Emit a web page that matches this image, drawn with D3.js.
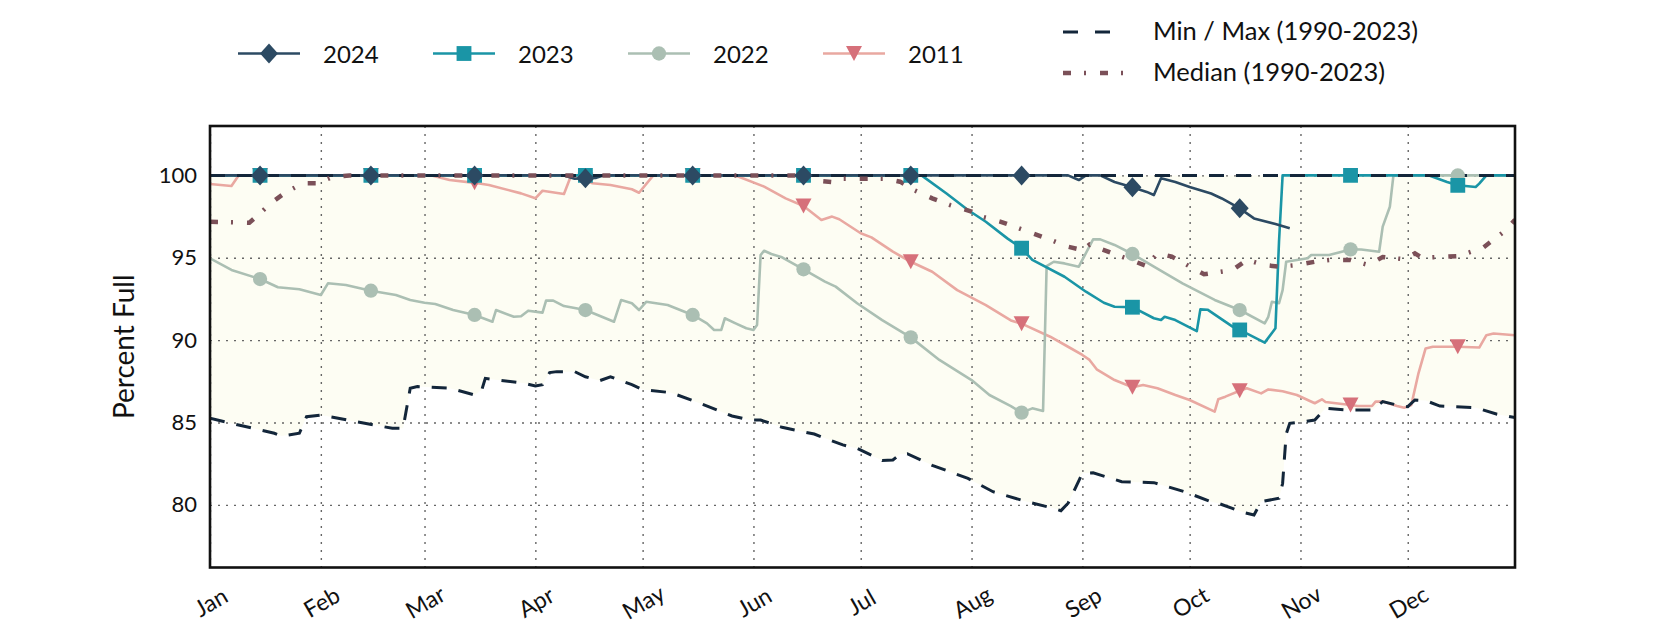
<!DOCTYPE html>
<html>
<head>
<meta charset="utf-8">
<script src="https://cdn.jsdelivr.net/npm/d3@7"></script>
<style>
  body { margin: 0; background: #fff; }
  text { font-family: Lato, "Open Sans", sans-serif; fill: #111; }
</style>
</head>
<body>
<div id="chart"></div>
<script>
// reservoir percent full, daily values ("MM-DD", value)
var series2024 = [
  ["01-01", 100], ["01-15", 100], ["02-15", 100], ["03-15", 100], ["04-09", 100], ["04-12", 99.8],
  ["04-15", 99.83], ["04-18", 99.85], ["04-20", 100], ["05-15", 100], ["06-15", 100], ["07-15", 100],
  ["08-15", 100], ["08-28", 100], ["08-31", 99.72], ["09-02", 100], ["09-06", 100], ["09-10", 99.6],
  ["09-15", 99.28], ["09-19", 99.0], ["09-21", 98.81], ["09-23", 99.83], ["09-27", 99.6], ["10-01", 99.3],
  ["10-07", 98.9], ["10-10", 98.6], ["10-15", 98.0], ["10-19", 97.39], ["10-25", 97.05], ["10-29", 96.79]
];
var series2023 = [
  ["01-01", 100], ["01-15", 100], ["02-15", 100], ["03-15", 100], ["04-15", 100], ["05-15", 100],
  ["06-15", 100], ["07-15", 100], ["07-18", 100], ["07-25", 98.9], ["07-31", 97.9], ["08-05", 97.19],
  ["08-11", 96.18], ["08-15", 95.58], ["08-18", 94.87], ["08-27", 93.85], ["09-02", 92.94], ["09-07", 92.27],
  ["09-10", 92.03], ["09-15", 92.0], ["09-21", 91.33], ["09-23", 91.22], ["09-24", 91.42], ["09-27", 91.22],
  ["10-03", 90.55], ["10-04", 91.87], ["10-06", 91.85], ["10-13", 90.82], ["10-15", 90.62], ["10-22", 89.85],
  ["10-25", 90.72], ["10-26", 96.0], ["10-27", 100], ["11-15", 100], ["12-07", 100], ["12-12", 99.6],
  ["12-15", 99.4], ["12-20", 99.3], ["12-21", 99.5], ["12-23", 100], ["12-31", 100]
];
var series2022 = [
  ["01-01", 94.97], ["01-07", 94.26], ["01-15", 93.71], ["01-20", 93.21], ["01-26", 93.09], ["02-01", 92.74],
  ["02-03", 93.45], ["02-08", 93.35], ["02-15", 93.0], ["02-22", 92.74], ["02-26", 92.44], ["03-01", 92.27],
  ["03-04", 92.2], ["03-09", 91.83], ["03-15", 91.53], ["03-20", 91.12], ["03-21", 91.83], ["03-26", 91.42],
  ["03-28", 91.45], ["03-30", 91.79], ["04-03", 91.67], ["04-04", 92.4], ["04-06", 92.4], ["04-09", 92.07],
  ["04-15", 91.83], ["04-23", 91.12], ["04-25", 92.44], ["04-28", 92.24], ["04-30", 91.83], ["05-02", 92.33],
  ["05-08", 92.13], ["05-15", 91.53], ["05-19", 91.02], ["05-21", 90.62], ["05-23", 90.62], ["05-24", 91.33],
  ["05-27", 91.02], ["05-30", 90.72], ["06-01", 90.62], ["06-02", 90.92], ["06-03", 95.17], ["06-04", 95.43],
  ["06-06", 95.23], ["06-09", 95.03], ["06-15", 94.3], ["06-21", 93.55], ["06-24", 93.25], ["06-30", 92.24],
  ["07-07", 91.22], ["07-15", 90.17], ["07-23", 88.8], ["08-01", 87.58], ["08-06", 86.67], ["08-12", 86.0],
  ["08-15", 85.6], ["08-18", 85.86], ["08-21", 85.7], ["08-22", 94.5], ["08-24", 94.76], ["08-27", 94.66],
  ["08-31", 94.46], ["09-04", 96.12], ["09-06", 96.12], ["09-10", 95.78], ["09-15", 95.23], ["09-21", 94.46],
  ["09-29", 93.45], ["10-08", 92.44], ["10-15", 91.83], ["10-22", 91.02], ["10-23", 91.42], ["10-24", 92.33],
  ["10-26", 92.24], ["10-27", 93.04], ["10-28", 94.76], ["10-31", 94.87], ["11-03", 94.97], ["11-04", 95.17],
  ["11-09", 95.17], ["11-15", 95.51], ["11-18", 95.5], ["11-23", 95.37], ["11-24", 96.89], ["11-26", 98.1],
  ["11-27", 100], ["12-15", 100], ["12-31", 100]
];
var series2011 = [
  ["01-01", 99.48], ["01-07", 99.36], ["01-09", 100], ["01-15", 100], ["02-15", 100], ["03-03", 100],
  ["03-08", 99.72], ["03-15", 99.55], ["03-19", 99.42], ["03-28", 98.91], ["04-01", 98.61], ["04-03", 99.07],
  ["04-09", 98.87], ["04-11", 100], ["04-15", 99.7], ["04-17", 99.52], ["04-22", 99.42], ["04-28", 99.16],
  ["04-30", 98.95], ["05-04", 100], ["05-15", 100], ["05-27", 100], ["06-04", 99.32], ["06-10", 98.61],
  ["06-15", 98.14], ["06-20", 97.29], ["06-23", 97.5], ["06-25", 97.34], ["07-01", 96.49], ["07-04", 96.24],
  ["07-10", 95.37], ["07-15", 94.76], ["07-21", 94.15], ["07-28", 93.04], ["08-05", 92.13], ["08-12", 91.2],
  ["08-15", 91.0], ["08-23", 90.21], ["08-28", 89.6], ["09-01", 89.1], ["09-03", 88.8], ["09-05", 88.23],
  ["09-10", 87.58], ["09-15", 87.14], ["09-18", 87.28], ["09-22", 87.08], ["09-27", 86.67], ["10-01", 86.37],
  ["10-08", 85.66], ["10-09", 86.41], ["10-11", 86.57], ["10-15", 86.93], ["10-17", 87.08], ["10-21", 86.77],
  ["10-23", 87.01], ["10-27", 86.9], ["10-31", 86.67], ["11-05", 86.17], ["11-07", 86.41], ["11-08", 86.25],
  ["11-15", 86.06], ["11-17", 86.0], ["11-21", 86.0], ["11-22", 86.27], ["11-24", 86.27], ["11-28", 86.0],
  ["11-30", 85.9], ["12-02", 86.06], ["12-04", 87.99], ["12-06", 89.5], ["12-08", 89.6], ["12-15", 89.6],
  ["12-21", 89.55], ["12-23", 90.3], ["12-25", 90.4], ["12-31", 90.3]
];
var minSeries = [
  ["01-01", 85.26], ["01-09", 84.85], ["01-19", 84.35], ["01-21", 84.18], ["01-26", 84.35], ["01-28", 85.35],
  ["02-01", 85.45], ["02-11", 85.05], ["02-21", 84.65], ["02-24", 84.65], ["02-26", 87.08], ["02-28", 87.18],
  ["03-08", 87.08], ["03-10", 86.97], ["03-15", 86.67], ["03-17", 86.97], ["03-18", 87.68], ["03-29", 87.38],
  ["04-01", 87.22], ["04-03", 87.3], ["04-05", 88.03], ["04-07", 88.09], ["04-12", 88.09], ["04-15", 87.78],
  ["04-19", 87.54], ["04-22", 87.78], ["04-28", 87.3], ["05-01", 87.0], ["05-09", 86.81], ["05-17", 86.17],
  ["05-26", 85.4], ["05-31", 85.15], ["06-03", 85.15], ["06-09", 84.71], ["06-18", 84.3], ["06-26", 83.64],
  ["06-30", 83.43], ["07-07", 82.7], ["07-10", 82.73], ["07-12", 83.08], ["07-14", 83.11], ["07-21", 82.4],
  ["07-31", 81.61], ["08-07", 80.8], ["08-16", 80.22], ["08-24", 79.79], ["08-26", 79.65], ["08-28", 80.1],
  ["08-30", 81.0], ["09-01", 81.92], ["09-04", 81.95], ["09-12", 81.41], ["09-21", 81.35], ["09-30", 80.77],
  ["10-07", 80.19], ["10-09", 80.1], ["10-16", 79.55], ["10-19", 79.39], ["10-21", 80.2], ["10-26", 80.4],
  ["10-27", 81.3], ["10-28", 84.3], ["10-29", 84.95], ["11-02", 85.05], ["11-05", 85.15], ["11-08", 85.86],
  ["11-14", 85.76], ["11-21", 85.76], ["11-24", 86.27], ["11-28", 86.06], ["12-01", 85.96], ["12-03", 86.37],
  ["12-06", 86.33], ["12-10", 86.0], ["12-20", 85.9], ["12-26", 85.5], ["12-31", 85.3]
];
var maxSeries = [["01-01", 100], ["12-31", 100]];
var medianSeries = [
  ["01-01", 97.19], ["01-12", 97.13], ["01-15", 97.7], ["01-18", 98.31], ["01-22", 98.95], ["01-27", 99.52],
  ["01-31", 99.52], ["02-04", 99.89], ["02-09", 100], ["06-15", 100], ["06-18", 99.7], ["06-23", 99.6],
  ["06-26", 99.8], ["07-08", 99.8], ["07-12", 99.62], ["07-16", 99.1], ["07-21", 98.61], ["07-26", 98.2],
  ["08-01", 97.8], ["08-04", 97.49], ["08-09", 97.2], ["08-13", 96.89], ["08-22", 96.18], ["08-28", 95.67],
  ["09-01", 95.47], ["09-03", 95.8], ["09-10", 95.23], ["09-19", 94.5], ["09-22", 95.27], ["09-26", 95.07],
  ["10-05", 94.0], ["10-13", 94.26], ["10-17", 94.87], ["10-22", 94.56], ["10-26", 94.46], ["10-31", 94.56],
  ["11-05", 94.76], ["11-09", 94.87], ["11-15", 94.87], ["11-20", 94.56], ["11-24", 95.05], ["11-30", 94.91],
  ["12-03", 95.27], ["12-05", 95.0], ["12-15", 95.1], ["12-22", 95.6], ["12-28", 96.6], ["12-31", 97.3]
];
var yTicks = [80, 85, 90, 95, 100];
var yearLabels = ["2024", "2023", "2022", "2011"];
var statLabels = ["Min / Max (1990-2023)", "Median (1990-2023)"];

var W = 1680, H = 630;
var margin = {top: 126, right: 165, bottom: 62.5, left: 210};
var width = W - margin.left - margin.right,
    height = H - margin.top - margin.bottom;

var parse = d3.timeParse("%Y-%m-%d");
function rows(arr) { return arr.map(function(d) { return {date: parse("2024-" + d[0]), value: d[1]}; }); }

var x = d3.scaleTime()
  .domain([new Date(2024, 0, 1), new Date(2024, 11, 31)])
  .range([0, width]);
var y = d3.scaleLinear()
  .domain([76.2, 103])
  .range([height, 0]);

var svg = d3.select("#chart").append("svg")
  .attr("width", W).attr("height", H);
var g = svg.append("g")
  .attr("transform", "translate(" + margin.left + "," + margin.top + ")");

g.append("clipPath").attr("id", "clip")
  .append("rect").attr("width", width).attr("height", height);

// min / max band
var minRows = rows(minSeries);
g.append("path")
  .datum(minRows)
  .attr("fill", "#fdfdf3")
  .attr("d", d3.area()
    .x(function(d) { return x(d.date); })
    .y0(function(d) { return y(d.value); })
    .y1(y(100)));

// grid
g.append("g")
  .call(d3.axisBottom(x).ticks(d3.timeMonth.every(1)).tickSize(height).tickFormat(""))
  .call(function(s) { s.select(".domain").remove(); })
  .selectAll("line").attr("stroke", "#666").attr("stroke-width", 1.4).attr("stroke-dasharray", "2,6");
g.append("g")
  .call(d3.axisLeft(y).tickValues(yTicks).tickSize(-width).tickFormat(""))
  .call(function(s) { s.select(".domain").remove(); })
  .selectAll("line").attr("stroke", "#666").attr("stroke-width", 1.4).attr("stroke-dasharray", "2,6");

var line = d3.line()
  .x(function(d) { return x(d.date); })
  .y(function(d) { return y(d.value); });

var years = [
  {label: "2024", data: rows(series2024), line: "#2c4a63", mark: "#2c4a63", shape: "diamond"},
  {label: "2023", data: rows(series2023), line: "#1a95a6", mark: "#1a95a6", shape: "square"},
  {label: "2022", data: rows(series2022), line: "#abbfb3", mark: "#abbfb3", shape: "circle"},
  {label: "2011", data: rows(series2011), line: "#e9a8a1", mark: "#d6707a", shape: "tri"}
];

function markerPath(shape) {
  if (shape === "diamond") return "M0,-10L9,0L0,10L-9,0Z";
  if (shape === "square") return d3.symbol(d3.symbolSquare, 220)();
  if (shape === "circle") return d3.symbol(d3.symbolCircle, 160)();
  return "M-8,-7.5L8,-7.5L0,7.5Z";
}

var plot = g.append("g").attr("clip-path", "url(#clip)");
var drawOrder = years.slice().reverse();

drawOrder.forEach(function(s) {
  plot.append("path").datum(s.data)
    .attr("fill", "none").attr("stroke", s.line).attr("stroke-width", 2.6)
    .attr("stroke-linejoin", "round")
    .attr("d", line);
});

plot.append("path").datum(rows(maxSeries))
  .attr("fill", "none").attr("stroke", "#13263a").attr("stroke-width", 3)
  .attr("stroke-dasharray", "15,12").attr("d", line);
plot.append("path").datum(minRows)
  .attr("fill", "none").attr("stroke", "#13263a").attr("stroke-width", 3)
  .attr("stroke-dasharray", "15,12").attr("d", line);
plot.append("path").datum(rows(medianSeries))
  .attr("fill", "none").attr("stroke", "#7b5058").attr("stroke-width", 4.5)
  .attr("stroke-dasharray", "8,13,2,14").attr("d", line);

drawOrder.forEach(function(s) {
  plot.selectAll(null)
    .data(s.data.filter(function(d) { return d.date.getDate() === 15; }))
    .enter().append("path")
    .attr("d", markerPath(s.shape))
    .attr("fill", s.mark)
    .attr("transform", function(d) { return "translate(" + x(d.date) + "," + y(d.value) + ")"; });
});

// frame
g.append("rect").attr("width", width).attr("height", height)
  .attr("fill", "none").attr("stroke", "#111").attr("stroke-width", 2.6);

// axes labels
var yAxis = g.append("g")
  .call(d3.axisLeft(y).tickValues(yTicks).tickSize(0).tickPadding(13));
yAxis.select(".domain").remove();
yAxis.selectAll("text").style("font-size", "22px").attr("fill", "#111");

var xAxis = g.append("g").attr("transform", "translate(0," + height + ")")
  .call(d3.axisBottom(x).ticks(d3.timeMonth.every(1)).tickFormat(d3.timeFormat("%b")).tickSize(0));
xAxis.select(".domain").remove();
xAxis.selectAll("text")
  .style("font-size", "23px").attr("fill", "#111")
  .attr("y", 0).attr("dy", null)
  .attr("text-anchor", "middle").attr("dominant-baseline", "central")
  .attr("transform", "translate(0,34) rotate(-30)");

svg.append("text")
  .attr("transform", "translate(134," + (margin.top + height / 2) + ") rotate(-90)")
  .attr("text-anchor", "middle")
  .style("font-size", "28px")
  .text("Percent Full");

// legend: years
var leg = svg.append("g");
years.forEach(function(s, i) {
  var lx = 238 + i * 195, ly = 53.5;
  leg.append("line").attr("x1", lx).attr("x2", lx + 62).attr("y1", ly).attr("y2", ly)
    .attr("stroke", s.line).attr("stroke-width", 2.6);
  leg.append("path").attr("d", markerPath(s.shape)).attr("fill", s.mark)
    .attr("transform", "translate(" + (lx + 31) + "," + ly + ")");
  leg.append("text").attr("x", lx + 85).attr("y", ly + 9).style("font-size", "24px").text(yearLabels[i]);
});

// legend: statistics
var stats = [
  {y: 32, color: "#13263a", width: 3, dash: "15,17"},
  {y: 73, color: "#7b5058", width: 4.5, dash: "8,13,2,14"}
];
stats.forEach(function(s, i) {
  leg.append("line").attr("x1", 1063).attr("x2", 1125).attr("y1", s.y).attr("y2", s.y)
    .attr("stroke", s.color).attr("stroke-width", s.width).attr("stroke-dasharray", s.dash);
  leg.append("text").attr("x", 1153).attr("y", s.y + 8).style("font-size", "25.5px").text(statLabels[i]);
});
</script>
</body>
</html>
